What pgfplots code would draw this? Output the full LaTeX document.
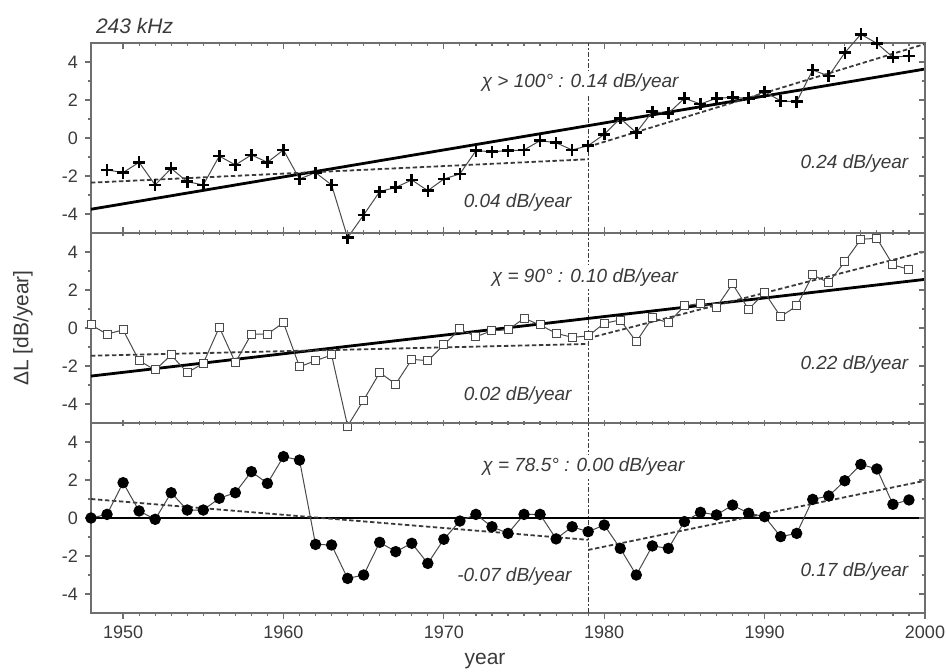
\documentclass[border=0pt]{standalone}
\usepackage{pgfplots}
\pgfplotsset{compat=1.18}
\usepackage{fontspec}
\setmainfont{Liberation Sans}
\definecolor{axisgray}{HTML}{6E6E6E}
\definecolor{textgray}{HTML}{3A3A3A}
\definecolor{datagray}{HTML}{4A4A4A}
\tikzset{ann/.style={font=\fontsize{9.5}{11}\selectfont\itshape, text=textgray},
         annw/.style={ann, fill=white, inner sep=1.5pt}}
\pgfplotsset{
  panel/.style={
    scale only axis, width=417pt, height=95pt,
    xmin=1948, xmax=2000, ymin=-5, ymax=5,
    xtick={1950,1960,...,2000}, ytick={-4,-2,0,2,4},
    minor x tick num=9, minor y tick num=1,
    ytick pos=left, ytick align=outside,
    axis line style={draw=axisgray, line width=0.6pt},
    major tick length=3pt, minor tick length=1.6pt,
    every tick/.style={axisgray, line width=0.6pt},
    tick label style={font=\fontsize{9}{10}\selectfont, text=textgray},
    /pgf/number format/assume math mode=true,
    /pgf/number format/1000 sep={},
    clip=false, anchor=south west,
  },
  rightax/.style={
    scale only axis, width=417pt, height=95pt,
    xmin=1948, xmax=2000, ymin=-5, ymax=5,
    axis x line=none, axis y line*=right,
    ytick={-4,-2,0,2,4}, minor y tick num=1, ytick align=inside,
    yticklabels={},
    axis line style={draw=axisgray, line width=0.6pt},
    major tick length=3pt, minor tick length=1.6pt,
    every tick/.style={axisgray, line width=0.6pt},
    anchor=south west,
  },
  dataline/.style={datagray, line width=0.5pt},
  trend/.style={black, line width=1.4pt},
  fitd/.style={textgray, line width=0.9pt, dash pattern=on 2.2pt off 1.3pt},
  vline/.style={textgray, line width=0.5pt, dash pattern=on 2.5pt off 1.2pt on 0.6pt off 1.2pt},
}
\begin{document}
\begin{tikzpicture}
\path[use as bounding box] (0,0) rectangle (473pt,335.5pt);

% ---------------- top panel ----------------
\begin{axis}[panel, at={(45.5pt,219pt)}, xtick align=inside, xticklabels={}]
\addplot[vline] coordinates {(1979,-5) (1979,5)};
\node[annw] at (axis cs:1978.5,2.9) {χ > 100° : 0.14 dB/year};
\node[ann] at (axis cs:1974.6,-3.4) {0.04 dB/year};
\node[ann] at (axis cs:1995.6,-1.33) {0.24 dB/year};
\addplot[trend] coordinates {(1948,-3.75) (2000,3.63)};
\addplot[fitd] coordinates {(1948,-2.35) (1979,-1.12)};
\addplot[fitd] coordinates {(1979,-0.46) (2000,4.95)};
\addplot[dataline, mark=+, mark size=3pt, mark options={black, line width=1.3pt, solid}] coordinates {
(1949,-1.68) (1950,-1.82) (1951,-1.28) (1952,-2.47) (1953,-1.60) (1954,-2.30)
(1955,-2.47) (1956,-0.95) (1957,-1.42) (1958,-0.89) (1959,-1.28) (1960,-0.63)
(1961,-2.16) (1962,-1.82) (1963,-2.47) (1964,-5.25) (1965,-4.05) (1966,-2.82)
(1967,-2.60) (1968,-2.21) (1969,-2.77) (1970,-2.16) (1971,-1.89) (1972,-0.67)
(1973,-0.72) (1974,-0.67) (1975,-0.63) (1976,-0.14) (1977,-0.25) (1978,-0.63)
(1979,-0.40) (1980,0.19) (1981,1.03) (1982,0.28) (1983,1.39) (1984,1.30)
(1985,2.09) (1986,1.79) (1987,2.09) (1988,2.14) (1989,2.09) (1990,2.44)
(1991,1.95) (1992,1.91) (1993,3.58) (1994,3.26) (1995,4.49) (1996,5.46)
(1997,4.98) (1998,4.25) (1999,4.32)};
\end{axis}
\begin{axis}[rightax, at={(45.5pt,219pt)}]
\end{axis}

% ---------------- middle panel ----------------
\begin{axis}[panel, at={(45.5pt,124pt)}, xtick align=center, xticklabels={}]
\addplot[vline] coordinates {(1979,-5) (1979,5)};
\node[annw] at (axis cs:1978.8,2.67) {χ = 90° : 0.10 dB/year};
\node[ann] at (axis cs:1974.6,-3.58) {0.02 dB/year};
\node[ann] at (axis cs:1995.6,-1.95) {0.22 dB/year};
\addplot[trend] coordinates {(1948,-2.53) (2000,2.56)};
\addplot[fitd] coordinates {(1948,-1.46) (1979,-0.84)};
\addplot[fitd] coordinates {(1979,-0.54) (2000,4.02)};
\addplot[dataline, mark=square*, mark size=2pt, mark options={fill=white, draw=datagray, line width=0.5pt, solid}] coordinates {
(1948,0.16) (1949,-0.32) (1950,-0.10) (1951,-1.72) (1952,-2.21) (1953,-1.42)
(1954,-2.35) (1955,-1.86) (1956,0.04) (1957,-1.82) (1958,-0.32) (1959,-0.32)
(1960,0.28) (1961,-2.04) (1962,-1.72) (1963,-1.42) (1964,-5.16) (1965,-3.79)
(1966,-2.35) (1967,-2.95) (1968,-1.65) (1969,-1.72) (1970,-0.89) (1971,-0.05)
(1972,-0.46) (1973,-0.14) (1974,-0.10) (1975,0.51) (1976,0.16) (1977,-0.28)
(1978,-0.49) (1979,-0.42) (1980,0.25) (1981,0.42) (1982,-0.72) (1983,0.54)
(1984,0.28) (1985,1.16) (1986,1.30) (1987,1.09) (1988,2.32) (1989,0.98)
(1990,1.86) (1991,0.60) (1992,1.16) (1993,2.79) (1994,2.39) (1995,3.49)
(1996,4.67) (1997,4.72) (1998,3.32) (1999,3.09)};
\end{axis}
\begin{axis}[rightax, at={(45.5pt,124pt)}]
\end{axis}

% ---------------- bottom panel ----------------
\begin{axis}[panel, at={(45.5pt,29pt)}, xtick pos=bottom, xtick align=outside]
\addplot[vline] coordinates {(1979,-5) (1979,5)};
\node[annw] at (axis cs:1978.7,2.7) {χ = 78.5° : 0.00 dB/year};
\node[ann] at (axis cs:1974.4,-3.09) {-0.07 dB/year};
\node[ann] at (axis cs:1995.6,-2.82) {0.17 dB/year};
\addplot[trend] coordinates {(1948,0) (2000,0)};
\addplot[fitd] coordinates {(1948,1.00) (1979,-1.15)};
\addplot[fitd] coordinates {(1979,-1.68) (2000,1.96)};
\addplot[dataline, mark=*, mark size=2.6pt, mark options={black, solid}] coordinates {
(1948,0.00) (1949,0.19) (1950,1.86) (1951,0.37) (1952,-0.07) (1953,1.33)
(1954,0.42) (1955,0.42) (1956,1.04) (1957,1.33) (1958,2.44) (1959,1.82)
(1960,3.23) (1961,3.05) (1962,-1.39) (1963,-1.42) (1964,-3.18) (1965,-3.00)
(1966,-1.28) (1967,-1.77) (1968,-1.33) (1969,-2.39) (1970,-1.12) (1971,-0.16)
(1972,0.19) (1973,-0.46) (1974,-0.81) (1975,0.19) (1976,0.19) (1977,-1.10)
(1978,-0.46) (1979,-0.72) (1980,-0.37) (1981,-1.60) (1982,-3.00) (1983,-1.47)
(1984,-1.60) (1985,-0.19) (1986,0.30) (1987,0.16) (1988,0.68) (1989,0.25)
(1990,0.07) (1991,-0.98) (1992,-0.81) (1993,0.98) (1994,1.16) (1995,1.96)
(1996,2.82) (1997,2.58) (1998,0.72) (1999,0.95)};
\end{axis}
\begin{axis}[rightax, at={(45.5pt,29pt)}]
\end{axis}

% labels
\node[anchor=west, font=\fontsize{10.5}{12}\selectfont\itshape, text=textgray] at (44.5pt,322.5pt) {243 kHz};
\node[rotate=90, font=\fontsize{10.5}{12}\selectfont, text=textgray] at (11.5pt,171.5pt) {ΔL [dB/year]};
\node[font=\fontsize{10.5}{12}\selectfont, text=textgray] at (242.5pt,5pt) {year};
\end{tikzpicture}
\end{document}
